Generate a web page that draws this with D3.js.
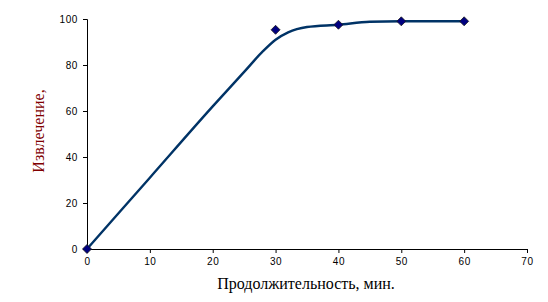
<!DOCTYPE html>
<html>
<head>
<meta charset="utf-8">
<script src="https://cdn.jsdelivr.net/npm/d3@7"></script>
<style>
body{margin:0;background:#fff;}
svg{display:block;}
</style>
</head>
<body>
<svg width="548" height="302"></svg>
<script>
// measured points
var timeMin=[0,30,40,50,60];
var extraction=[0,95.3,97.5,99,99];
// fitted curve
var fitTime=[0,10,20,25,28,30,32,35,40,45,50,60];
var fitValue=[0,31,62,77,86,91,94.2,96.5,97.5,98.8,99,99];
var xTicks=[0,10,20,30,40,50,60,70];
var yTicks=[0,20,40,60,80,100];

var svg=d3.select("svg");
var x=d3.scaleLinear().domain([0,70]).range([87,527]);
var y=d3.scaleLinear().domain([0,100]).range([249,19]);

var xaxis=d3.axisBottom(x).tickValues(xTicks).tickSize(4).tickPadding(5);
var yaxis=d3.axisLeft(y).tickValues(yTicks).tickSize(4).tickPadding(5);

var gx=svg.append("g").attr("transform","translate(0,249)").call(xaxis);
var gy=svg.append("g").attr("transform","translate(87,0)").call(yaxis);
[gx,gy].forEach(function(g){
	g.select(".domain").attr("stroke","#000");
	g.selectAll(".tick line").attr("stroke","#000");
	g.selectAll(".tick text").attr("fill","#000")
	 .style("font-family","'Liberation Sans',Arial,sans-serif").style("font-size","10px")
	 .style("letter-spacing","0.6px");
});

var fit=fitTime.map(function(t,i){return [t,fitValue[i]];});
var line=d3.line().x(d=>x(d[0])).y(d=>y(d[1])).curve(d3.curveMonotoneX);
svg.append("path").datum(fit).attr("d",line)
	.attr("fill","none").attr("stroke","#003366").attr("stroke-width",2.4);

var pts=timeMin.map(function(t,i){return [t,extraction[i]];});
svg.selectAll(".pt").data(pts).enter().append("path").classed("pt",true)
	.attr("d","M0,-4.5L4.5,0L0,4.5L-4.5,0Z")
	.attr("transform",d=>"translate("+x(d[0])+","+y(d[1])+")")
	.attr("fill","#000080").attr("stroke","#1a1a1a").attr("stroke-width",0.8);

svg.append("text").attr("x",306).attr("y",289).attr("text-anchor","middle")
	.style("font-family","'Liberation Serif','Times New Roman',serif").style("font-size","16px")
	.text("Продолжительность, мин.");
svg.append("text").attr("transform","translate(44,131) rotate(-90)").attr("text-anchor","middle")
	.style("font-family","'Liberation Serif','Times New Roman',serif").style("font-size","16px")
	.attr("fill","#800000")
	.text("Извлечение,");
</script>
</body>
</html>
